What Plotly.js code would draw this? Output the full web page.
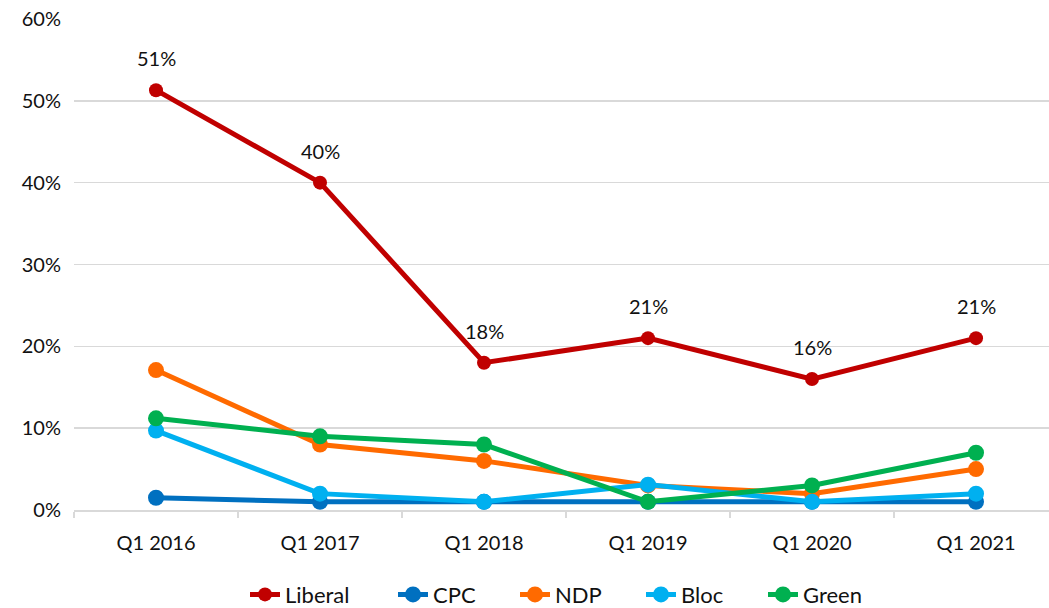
<!DOCTYPE html>
<html>
<head>
<meta charset="utf-8">
<script src="https://cdn.plot.ly/plotly-3.0.1.min.js"></script>
<style>html,body{margin:0;padding:0;background:#fff;}#chart{width:1049px;height:608px;}</style>
</head>
<body>
<div id="chart"></div>
<script>
const categories = ["Q1 2016", "Q1 2017", "Q1 2018", "Q1 2019", "Q1 2020", "Q1 2021"];
const seriesNames = ["Liberal", "CPC", "NDP", "Bloc", "Green"];
const liberal = [51.3, 40, 18, 21, 16, 21];
const cpc = [1.5, 1, 1, 1, 1, 1];
const ndp = [17.1, 8, 6, 3, 2, 5];
const bloc = [9.7, 2, 1, 3.1, 1, 2];
const green = [11.2, 9, 8, 1, 3, 7];
const yTicks = [0, 10, 20, 30, 40, 50, 60];

const FONT = "Lato, 'Open Sans', sans-serif";
const colors = ["#C00000", "#0070C0", "#FF6A00", "#00B0F0", "#00B050"];
const markerSizes = [14, 16, 16, 16, 16];
const legendTextX = [285, 433, 555, 681, 803];
const values = [liberal, cpc, ndp, bloc, green];
const legendIds = ["legend", "legend2", "legend3", "legend4", "legend5"];

const data = values.map((vals, i) => ({
  type: "scatter", mode: "lines+markers", name: seriesNames[i],
  x: categories, y: vals,
  line: {color: colors[i], width: 5},
  marker: {color: colors[i], size: markerSizes[i]},
  cliponaxis: false,
  hoverinfo: "skip",
  legend: legendIds[i]
}));

const annotations = liberal.map((v, i) => ({
  x: categories[i], y: v, xref: "x", yref: "y",
  text: Math.round(v) + "%", showarrow: false, yshift: 32,
  font: {family: FONT, size: 20, color: "#111"}
}));

const layout = {
  width: 1049, height: 608,
  margin: {l: 74, r: 0, t: 19, b: 98},
  paper_bgcolor: "#fff", plot_bgcolor: "#fff",
  font: {family: FONT, size: 20, color: "#111"},
  showlegend: true,
  xaxis: {
    type: "category", range: [-0.5, 5.445],
    showgrid: false, zeroline: false,
    showline: true, linecolor: "#d9d9d9", linewidth: 1.5,
    ticks: "outside", tickson: "boundaries", ticklen: 6, tickcolor: "#d9d9d9", tickwidth: 1.5,
    ticklabelstandoff: 14,
    tickfont: {family: FONT, size: 20, color: "#111"}
  },
  yaxis: {
    range: [0, 60], tickvals: yTicks, ticktext: yTicks.map(t => t + "%"),
    showgrid: true, gridcolor: "#d9d9d9", gridwidth: 1.5,
    zeroline: false, showline: false, ticks: "",
    ticklabelstandoff: 12,
    tickfont: {family: FONT, size: 20, color: "#111"}
  },
  annotations: annotations
};

legendIds.forEach((id, i) => {
  layout[id] = {
    orientation: "h", xref: "container", yref: "container",
    x: (legendTextX[i] - 40) / 1049, xanchor: "left", y: 0.022, yanchor: "middle",
    font: {family: FONT, size: 22, color: "#111"},
    bgcolor: "rgba(0,0,0,0)", borderwidth: 0
  };
});

Plotly.newPlot("chart", data, layout, {staticPlot: true, displayModeBar: false});
</script>
</body>
</html>
